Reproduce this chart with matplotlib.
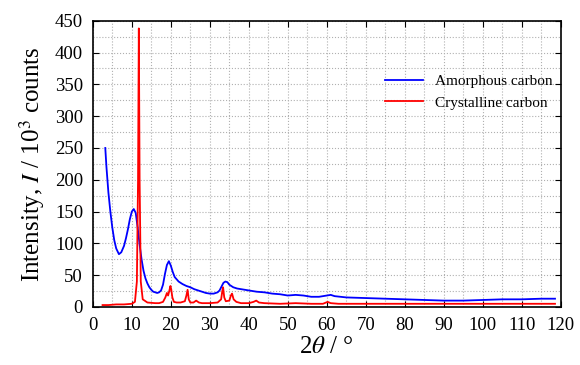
import matplotlib.pyplot as plt
from matplotlib.ticker import MultipleLocator

plt.rcParams['font.family'] = ['Liberation Serif', 'DejaVu Serif']
plt.rcParams['mathtext.fontset'] = 'stix'

# Amorphous carbon (blue)
amo_x = [3.2, 3.5, 4, 4.5, 5, 5.5, 6, 6.7, 7.3, 8,
         8.5, 9, 9.5, 10, 10.5, 11, 11.5, 12, 12.5, 13,
         13.5, 14, 14.5, 15, 15.5, 16, 16.5, 17, 17.5, 18,
         18.5, 19, 19.5, 20, 20.5, 21, 22, 23, 24, 25,
         26, 27, 28, 29, 30, 31, 32, 32.5, 33, 33.5,
         34, 34.5, 35, 36, 37, 38, 40, 42, 44, 46,
         48, 50, 52, 54, 56, 58, 60, 61, 62, 65,
         70, 75, 80, 85, 90, 95, 100, 105, 110, 115, 118.5]
amo_y = [250, 220, 180, 150, 125, 105, 92, 83, 86, 96,
         108, 122, 138, 150, 154, 148, 125, 98, 75, 57,
         45, 37, 31, 27, 24, 23, 22, 23, 26, 35,
         52, 66, 72, 65, 55, 47, 40, 36, 33, 31,
         28, 26, 24, 22, 21, 21, 23, 26, 32, 38,
         40, 39, 35, 31, 29, 28, 26, 24, 23, 21,
         20, 18, 19, 18, 16, 16, 18, 19, 17, 15,
         14, 13, 12, 11, 10, 10, 11, 12, 12, 13, 13]

# Crystalline carbon (red)
cry_x = [2.5, 4, 6, 8, 10, 10.8, 11.3, 11.6, 11.8, 12.0,
         12.3, 12.8, 14, 16, 17, 18, 18.6, 19.0, 19.3, 19.6,
         19.9, 20.1, 20.4, 20.8, 21.5, 22.5, 23.6, 24.0, 24.3, 24.6,
         25.0, 25.8, 26.5, 27.2, 28, 30, 32, 32.9, 33.2, 33.4,
         33.7, 34.1, 35.0, 35.4, 35.7, 36.1, 36.8, 38, 40, 41.2,
         41.9, 42.6, 44, 48, 52, 56, 59, 60.2, 61, 63,
         70, 80, 90, 100, 110, 118.5]
cry_y = [3, 3, 4, 4, 5, 8, 40, 200, 438, 200,
         40, 12, 7, 6, 6, 8, 15, 22, 18, 25,
         33, 28, 15, 8, 7, 7, 9, 18, 27, 12,
         7, 7, 10, 7, 6, 6, 7, 12, 25, 31,
         15, 9, 10, 18, 21, 12, 8, 6, 6, 8,
         10, 7, 6, 5, 6, 5, 5, 8, 6, 5,
         5, 5, 5, 5, 5, 5]

fig = plt.figure(figsize=(5.8, 3.65), dpi=100)
ax = fig.add_axes([0.160, 0.159, 0.807, 0.784])

ax.plot(amo_x, amo_y, color='blue', lw=1.3, label='Amorphous carbon')
ax.plot(cry_x, cry_y, color='red', lw=1.3, label='Crystalline carbon')

ax.set_xlim(0, 120)
ax.set_ylim(0, 450)
ax.xaxis.set_major_locator(MultipleLocator(10))
ax.xaxis.set_minor_locator(MultipleLocator(5))
ax.yaxis.set_major_locator(MultipleLocator(50))
ax.yaxis.set_minor_locator(MultipleLocator(25))
ax.grid(which='both', color='#b0b0b0', linestyle=':', linewidth=0.8)
ax.tick_params(which='major', direction='in', top=True, right=True,
               labelsize=13.5, length=4, pad=7)
ax.tick_params(which='minor', length=0)
for s in ax.spines.values():
    s.set_linewidth(1.2)

ax.set_xlabel(r'2$\theta$ / °', fontsize=18, labelpad=2)
ax.set_ylabel(r'Intensity, $I$ / 10$^3$ counts', fontsize=18, labelpad=6)

ax.legend(loc='upper right', bbox_to_anchor=(1.012, 0.86), frameon=False,
          fontsize=11, handlelength=2.5)

fig.savefig('out.png', dpi=100)
